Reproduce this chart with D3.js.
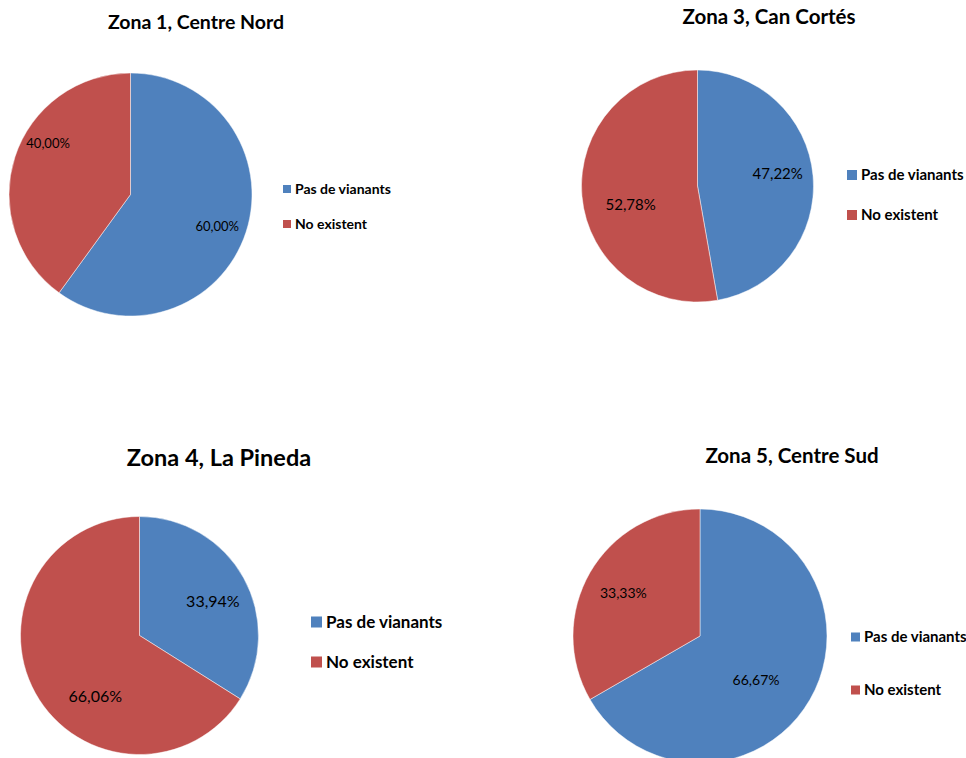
<!DOCTYPE html>
<html>
<head>
<meta charset="utf-8">
<script src="https://cdn.jsdelivr.net/npm/d3@7"></script>
<style>
  body { margin: 0; background: #fff; }
  text { font-family: Lato, "Open Sans", sans-serif; fill: #000; }
</style>
</head>
<body>
<svg id="pies"></svg>
<script>
const width = 966;
const height = 758;

// dades
const categories = ["Pas de vianants", "No existent"];
const zones = ["Zona 1, Centre Nord", "Zona 3, Can Cortés", "Zona 4, La Pineda", "Zona 5, Centre Sud"];
const pasDeVianants = [60.00, 47.22, 33.94, 66.67];
const noExistent = [40.00, 52.78, 66.06, 33.33];

const colors = ["#4F81BD", "#C0504D"];

// posició de cada gràfic
// kl = radi relatiu de les etiquetes, ka = desplaçament d'angle (graus) per llesca
const layout = [
  { cx: 130.5, cy: 194.5, r: 121.5, tx: 196, ty: 29, tSize: 19.5, lx: 283, ly: 189, lGap: 35, lSize: 14, sq: 8, pSize: 13, kl: [0.76, 0.8], ka: [2, 14] },
  { cx: 697.5, cy: 186, r: 116, tx: 769, ty: 24, tSize: 20.5, lx: 847, ly: 175, lGap: 40, lSize: 15, sq: 10, pSize: 15, kl: [0.7, 0.6], ka: [-4, -11] },
  { cx: 139.5, cy: 635.5, r: 119, tx: 219, ty: 466, tSize: 23.5, lx: 311, ly: 622, lGap: 40, lSize: 17, sq: 11, pSize: 16, kl: [0.68, 0.63], ka: [4, -25] },
  { cx: 700, cy: 636, r: 127, tx: 792, ty: 463, tSize: 20.5, lx: 851, ly: 637, lGap: 53, lSize: 15, sq: 9, pSize: 14, kl: [0.56, 0.69], ka: [8, -1] }
];

const svg = d3.select("#pies")
  .attr("width", width)
  .attr("height", height);

const pie = d3.pie().sort(null).value(d => d.value);
const fmt = v => d3.format(".2f")(v).replace(".", ",") + "%";

zones.forEach((zone, i) => {
  const L = layout[i];
  const data = categories.map((c, j) => ({
    cat: c,
    value: j === 0 ? pasDeVianants[i] : noExistent[i]
  }));

  const g = svg.append("g");

  // títol
  g.append("text")
    .attr("x", L.tx)
    .attr("y", L.ty)
    .attr("text-anchor", "middle")
    .attr("font-size", L.tSize)
    .attr("font-weight", "bold")
    .text(zone);

  const arc = d3.arc().innerRadius(0).outerRadius(L.r);

  const pg = g.append("g")
    .attr("transform", `translate(${L.cx},${L.cy})`);

  pg.selectAll("path")
    .data(pie(data))
    .enter().append("path")
    .attr("d", arc)
    .attr("fill", (d, j) => colors[j])
    .attr("stroke", "#ffffff")
    .attr("stroke-opacity", 0.6)
    .attr("stroke-width", 0.8);

  // etiquetes de percentatge
  pg.selectAll("text")
    .data(pie(data))
    .enter().append("text")
    .attr("transform", (d, j) => {
      const a = (d.startAngle + d.endAngle) / 2 + L.ka[j] * Math.PI / 180;
      const lr = L.r * L.kl[j];
      return `translate(${Math.sin(a) * lr},${-Math.cos(a) * lr})`;
    })
    .attr("text-anchor", "middle")
    .attr("dy", "0.35em")
    .attr("font-size", L.pSize)
    .text(d => fmt(d.data.value));

  // llegenda
  const leg = g.selectAll(".leg")
    .data(categories)
    .enter().append("g")
    .attr("transform", (d, j) => `translate(${L.lx},${L.ly + j * L.lGap})`);

  leg.append("rect")
    .attr("x", 0)
    .attr("y", -L.sq / 2)
    .attr("width", L.sq)
    .attr("height", L.sq)
    .attr("fill", (d, j) => colors[j]);

  leg.append("text")
    .attr("x", L.sq + 4)
    .attr("dy", "0.35em")
    .attr("font-size", L.lSize)
    .attr("font-weight", "bold")
    .text(d => d);
});
</script>
</body>
</html>
